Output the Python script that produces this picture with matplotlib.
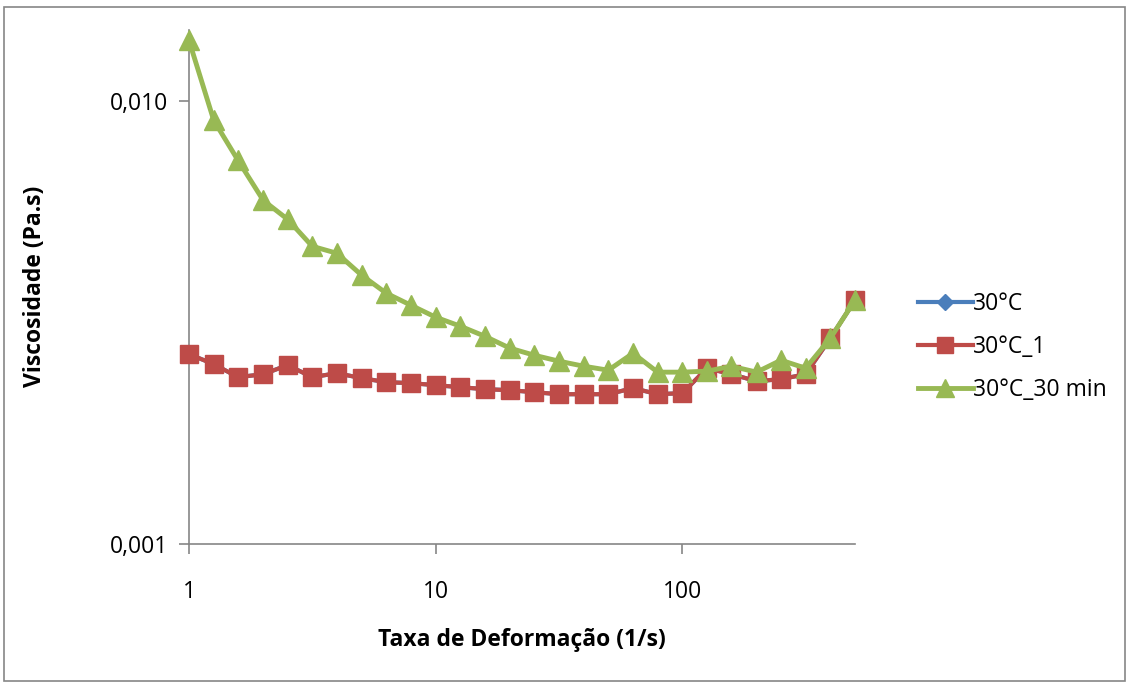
import matplotlib
matplotlib.use("Agg")
import matplotlib.pyplot as plt
from matplotlib.patches import Rectangle
from matplotlib.ticker import FixedLocator, FixedFormatter, NullLocator

plt.rcParams['font.family'] = ['Open Sans', 'DejaVu Sans']

shear_rate = [1.0, 1.26, 1.58, 2.0, 2.51, 3.16, 3.98, 5.01, 6.31, 7.94,
              10.0, 12.6, 15.8, 20.0, 25.1, 31.6, 39.8, 50.1, 63.1, 79.4,
              100.0, 126.0, 158.0, 200.0, 251.0, 316.0, 398.0, 501.0]

visc_30C_1 = [0.002685, 0.002549, 0.002382, 0.002419, 0.002536, 0.002382, 0.002432,
              0.002370, 0.002321, 0.002309, 0.002285, 0.002261, 0.002238, 0.002226,
              0.002203, 0.002180, 0.002180, 0.002180, 0.002250, 0.002180, 0.002192,
              0.002496, 0.002419, 0.002333, 0.002357, 0.002419, 0.002917, 0.003555]
visc_30C = list(visc_30C_1)
visc_30C_30min = [0.01373, 0.009060, 0.007360, 0.005976, 0.005416, 0.004706, 0.004538,
                  0.004049, 0.003686, 0.003463, 0.003254, 0.003105, 0.002948, 0.002770,
                  0.002670, 0.002589, 0.002522, 0.002470, 0.002698, 0.002445, 0.002445,
                  0.002458, 0.002522, 0.002445, 0.002602, 0.002496, 0.002917, 0.003555]

series_names = ["30°C", "30°C_1", "30°C_30 min"]
x_ticks = [1, 10, 100]
x_tick_labels = ["1", "10", "100"]
y_ticks = [0.001, 0.010]
y_tick_labels = ["0,001", "0,010"]

W, H = 1129, 684
fig = plt.figure(figsize=(W / 100, H / 100), dpi=100)
ax = fig.add_axes([189 / W, 1 - 544 / H, (855 - 189) / W, (544 - 30) / H])

ax.plot(shear_rate, visc_30C, color="#4A7EBB", lw=3, marker="D", ms=9,
        label=series_names[0], clip_on=False, zorder=3)
ax.plot(shear_rate, visc_30C_1, color="#BE4B48", lw=3, marker="s", ms=12.5,
        label=series_names[1], clip_on=False, zorder=4)
ax.plot(shear_rate, visc_30C_30min, color="#98B954", lw=3.5, marker="^", ms=14.5,
        label=series_names[2], clip_on=False, zorder=5)

ax.set_xscale("log")
ax.set_yscale("log")
ax.set_xlim(1, 501)
ax.set_ylim(0.001, 0.0145)

ax.xaxis.set_major_locator(FixedLocator(x_ticks))
ax.xaxis.set_major_formatter(FixedFormatter(x_tick_labels))
ax.xaxis.set_minor_locator(NullLocator())
ax.yaxis.set_major_locator(FixedLocator(y_ticks))
ax.yaxis.set_major_formatter(FixedFormatter(y_tick_labels))
ax.yaxis.set_minor_locator(NullLocator())

for s in ["top", "right"]:
    ax.spines[s].set_visible(False)
for s in ["left", "bottom"]:
    ax.spines[s].set_color("#868686")
    ax.spines[s].set_linewidth(1.2)

ax.tick_params(axis="x", direction="out", length=7, width=1.2, color="#868686",
               labelsize=16.5, pad=19)
ax.tick_params(axis="y", direction="out", length=7, width=1.2, color="#868686",
               labelsize=16.5, pad=8)

ax.set_xlabel("Taxa de Deformação (1/s)", fontsize=16.5, fontweight="bold", va="center")
ax.xaxis.set_label_coords(0.5, (544 - 640) / 514)
ax.set_ylabel("Viscosidade (Pa.s)", fontsize=16.5, fontweight="bold", va="center")
ax.yaxis.set_label_coords((35 - 189) / 666, (544 - 286) / 514)

leg = ax.legend(loc="center left", bbox_to_anchor=(897 / W, 1 - 347 / H),
                bbox_transform=fig.transFigure, frameon=False, fontsize=16.5,
                handlelength=2.4, handletextpad=0.0, labelspacing=0.85,
                markerscale=0.9)

fig.patches.append(Rectangle((4 / W, 1 - 681 / H), (1125 - 4) / W, (681 - 7) / H,
                             transform=fig.transFigure, fill=False,
                             edgecolor="#868686", linewidth=1.2))

fig.savefig("out.png", dpi=100)
